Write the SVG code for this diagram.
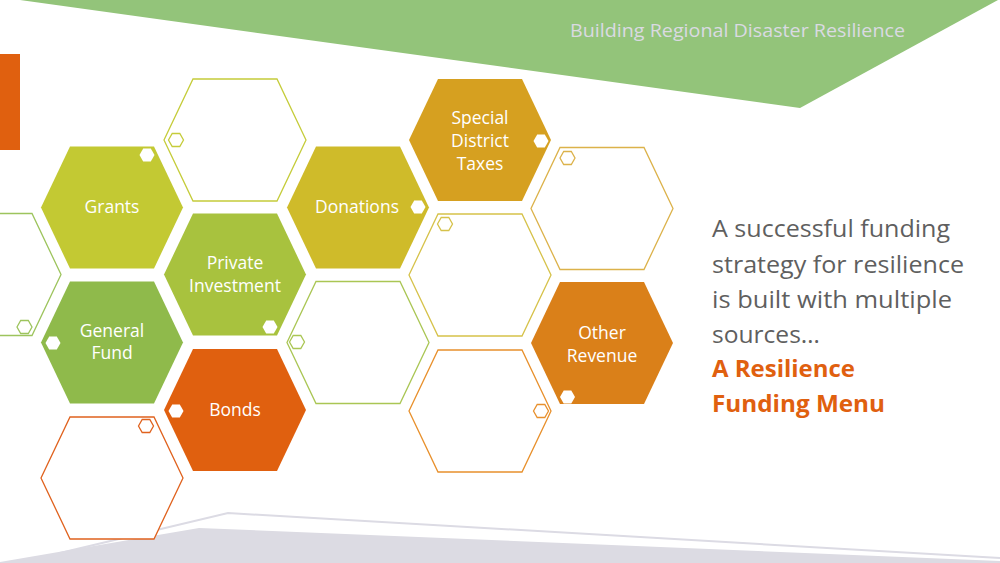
<svg xmlns="http://www.w3.org/2000/svg" xmlns:xlink="http://www.w3.org/1999/xlink" width="1000" height="563" viewBox="0 0 1000 563">
<defs>
<style>
.lbl{font-family:"Open Sans","Liberation Sans",sans-serif;font-size:17.5px;fill:#ffffff;text-anchor:middle}
.body{font-family:"Open Sans","Liberation Sans",sans-serif;font-size:23.5px;fill:#5f5f5f}
.menu{font-family:"Open Sans","Liberation Sans",sans-serif;font-size:23.5px;font-weight:bold;fill:#e0600f}
.ol{fill:#ffffff;stroke-width:1.3}
.sw{fill:#ffffff}
.so{fill:#ffffff;stroke-width:1.3}
</style>
<polygon id="hx" points="-71,0 -42,-61 42,-61 71,0 42,61 -42,61"/>
<polygon id="sh" points="-7.5,0 -3.8,-6.5 3.8,-6.5 7.5,0 3.8,6.5 -3.8,6.5"/>
</defs>
<rect width="1000" height="563" fill="#ffffff"/>
<g id="background">
<polygon points="20,0 998,0 800,108" fill="#93c47a"/>
<rect x="0" y="54" width="20" height="96" fill="#e0600f"/>
<polyline points="60,553 228,513 1000,558" fill="none" stroke="#dcdbe4" stroke-width="2"/>
<polygon points="0,563 0,562 199,528 1000,561 1000,563" fill="#dcdbe3"/>
<text x="570" y="37" font-family="'Open Sans','Liberation Sans',sans-serif" font-size="18" fill="#dadae2" textLength="335" lengthAdjust="spacingAndGlyphs">Building Regional Disaster Resilience</text>
</g>
<g id="connectors"></g>
<g id="n-grants">
<use xlink:href="#hx" x="112" y="207.5" fill="#c3c933"/>
<use xlink:href="#sh" x="147" y="155" class="sw"/>
<text class="lbl" x="112" y="213">Grants</text>
</g>
<g id="n-outline-1">
<use xlink:href="#hx" x="235" y="140" class="ol" stroke="#c5cc3a"/>
<use xlink:href="#sh" x="176" y="140" class="so" stroke="#c5cc3a"/>
</g>
<g id="n-donations">
<use xlink:href="#hx" x="358" y="207.5" fill="#cfbb2a"/>
<use xlink:href="#sh" x="418" y="207" class="sw"/>
<text class="lbl" x="357" y="213">Donations</text>
</g>
<g id="n-special">
<use xlink:href="#hx" x="480" y="140" fill="#d6a020"/>
<use xlink:href="#sh" x="541" y="141" class="sw"/>
<text class="lbl" x="480" y="124">Special</text>
<text class="lbl" x="480" y="147">District</text>
<text class="lbl" x="480" y="170">Taxes</text>
</g>
<g id="n-outline-2">
<use xlink:href="#hx" x="602" y="208.5" class="ol" stroke="#dcb24a"/>
<use xlink:href="#sh" x="567.5" y="158" class="so" stroke="#dcb24a"/>
</g>
<g id="n-outline-3">
<use xlink:href="#hx" x="-10" y="274.5" class="ol" stroke="#9dc45d"/>
<use xlink:href="#sh" x="24.5" y="327" class="so" stroke="#9dc45d"/>
</g>
<g id="n-private">
<use xlink:href="#hx" x="235" y="274.5" fill="#a8c23e"/>
<use xlink:href="#sh" x="270" y="327" class="sw"/>
<text class="lbl" x="235" y="269">Private</text>
<text class="lbl" x="235" y="292">Investment</text>
</g>
<g id="n-outline-4">
<use xlink:href="#hx" x="480" y="275" class="ol" stroke="#d6c24a"/>
<use xlink:href="#sh" x="445" y="224" class="so" stroke="#d6c24a"/>
</g>
<g id="n-general">
<use xlink:href="#hx" x="112" y="342.5" fill="#8fba4b"/>
<use xlink:href="#sh" x="53" y="343" class="sw"/>
<text class="lbl" x="112" y="337">General</text>
<text class="lbl" x="112" y="359">Fund</text>
</g>
<g id="n-outline-5">
<use xlink:href="#hx" x="358" y="342.5" class="ol" stroke="#aac654"/>
<use xlink:href="#sh" x="297" y="342" class="so" stroke="#aac654"/>
</g>
<g id="n-other">
<use xlink:href="#hx" x="602" y="343" fill="#da8019"/>
<use xlink:href="#sh" x="567.5" y="397" class="sw"/>
<text class="lbl" x="602" y="339">Other</text>
<text class="lbl" x="602" y="362">Revenue</text>
</g>
<g id="n-bonds">
<use xlink:href="#hx" x="235" y="410" fill="#e0600f"/>
<use xlink:href="#sh" x="176" y="411" class="sw"/>
<text class="lbl" x="235" y="416">Bonds</text>
</g>
<g id="n-outline-6">
<use xlink:href="#hx" x="480" y="411" class="ol" stroke="#e8902c"/>
<use xlink:href="#sh" x="541" y="411" class="so" stroke="#e8902c"/>
</g>
<g id="n-outline-7">
<use xlink:href="#hx" x="112" y="478" class="ol" stroke="#e0621e"/>
<use xlink:href="#sh" x="146" y="426" class="so" stroke="#e0621e"/>
</g>
<g id="caption">
<text class="body" x="712" y="237" textLength="238" lengthAdjust="spacingAndGlyphs">A successful funding</text>
<text class="body" x="712" y="273" textLength="252" lengthAdjust="spacingAndGlyphs">strategy for resilience</text>
<text class="body" x="712" y="308" textLength="240" lengthAdjust="spacingAndGlyphs">is built with multiple</text>
<text class="body" x="712" y="343" textLength="108" lengthAdjust="spacingAndGlyphs">sources…</text>
<text class="menu" x="712" y="377" textLength="143" lengthAdjust="spacingAndGlyphs">A Resilience</text>
<text class="menu" x="712" y="412" textLength="173" lengthAdjust="spacingAndGlyphs">Funding Menu</text>
</g>
</svg>
